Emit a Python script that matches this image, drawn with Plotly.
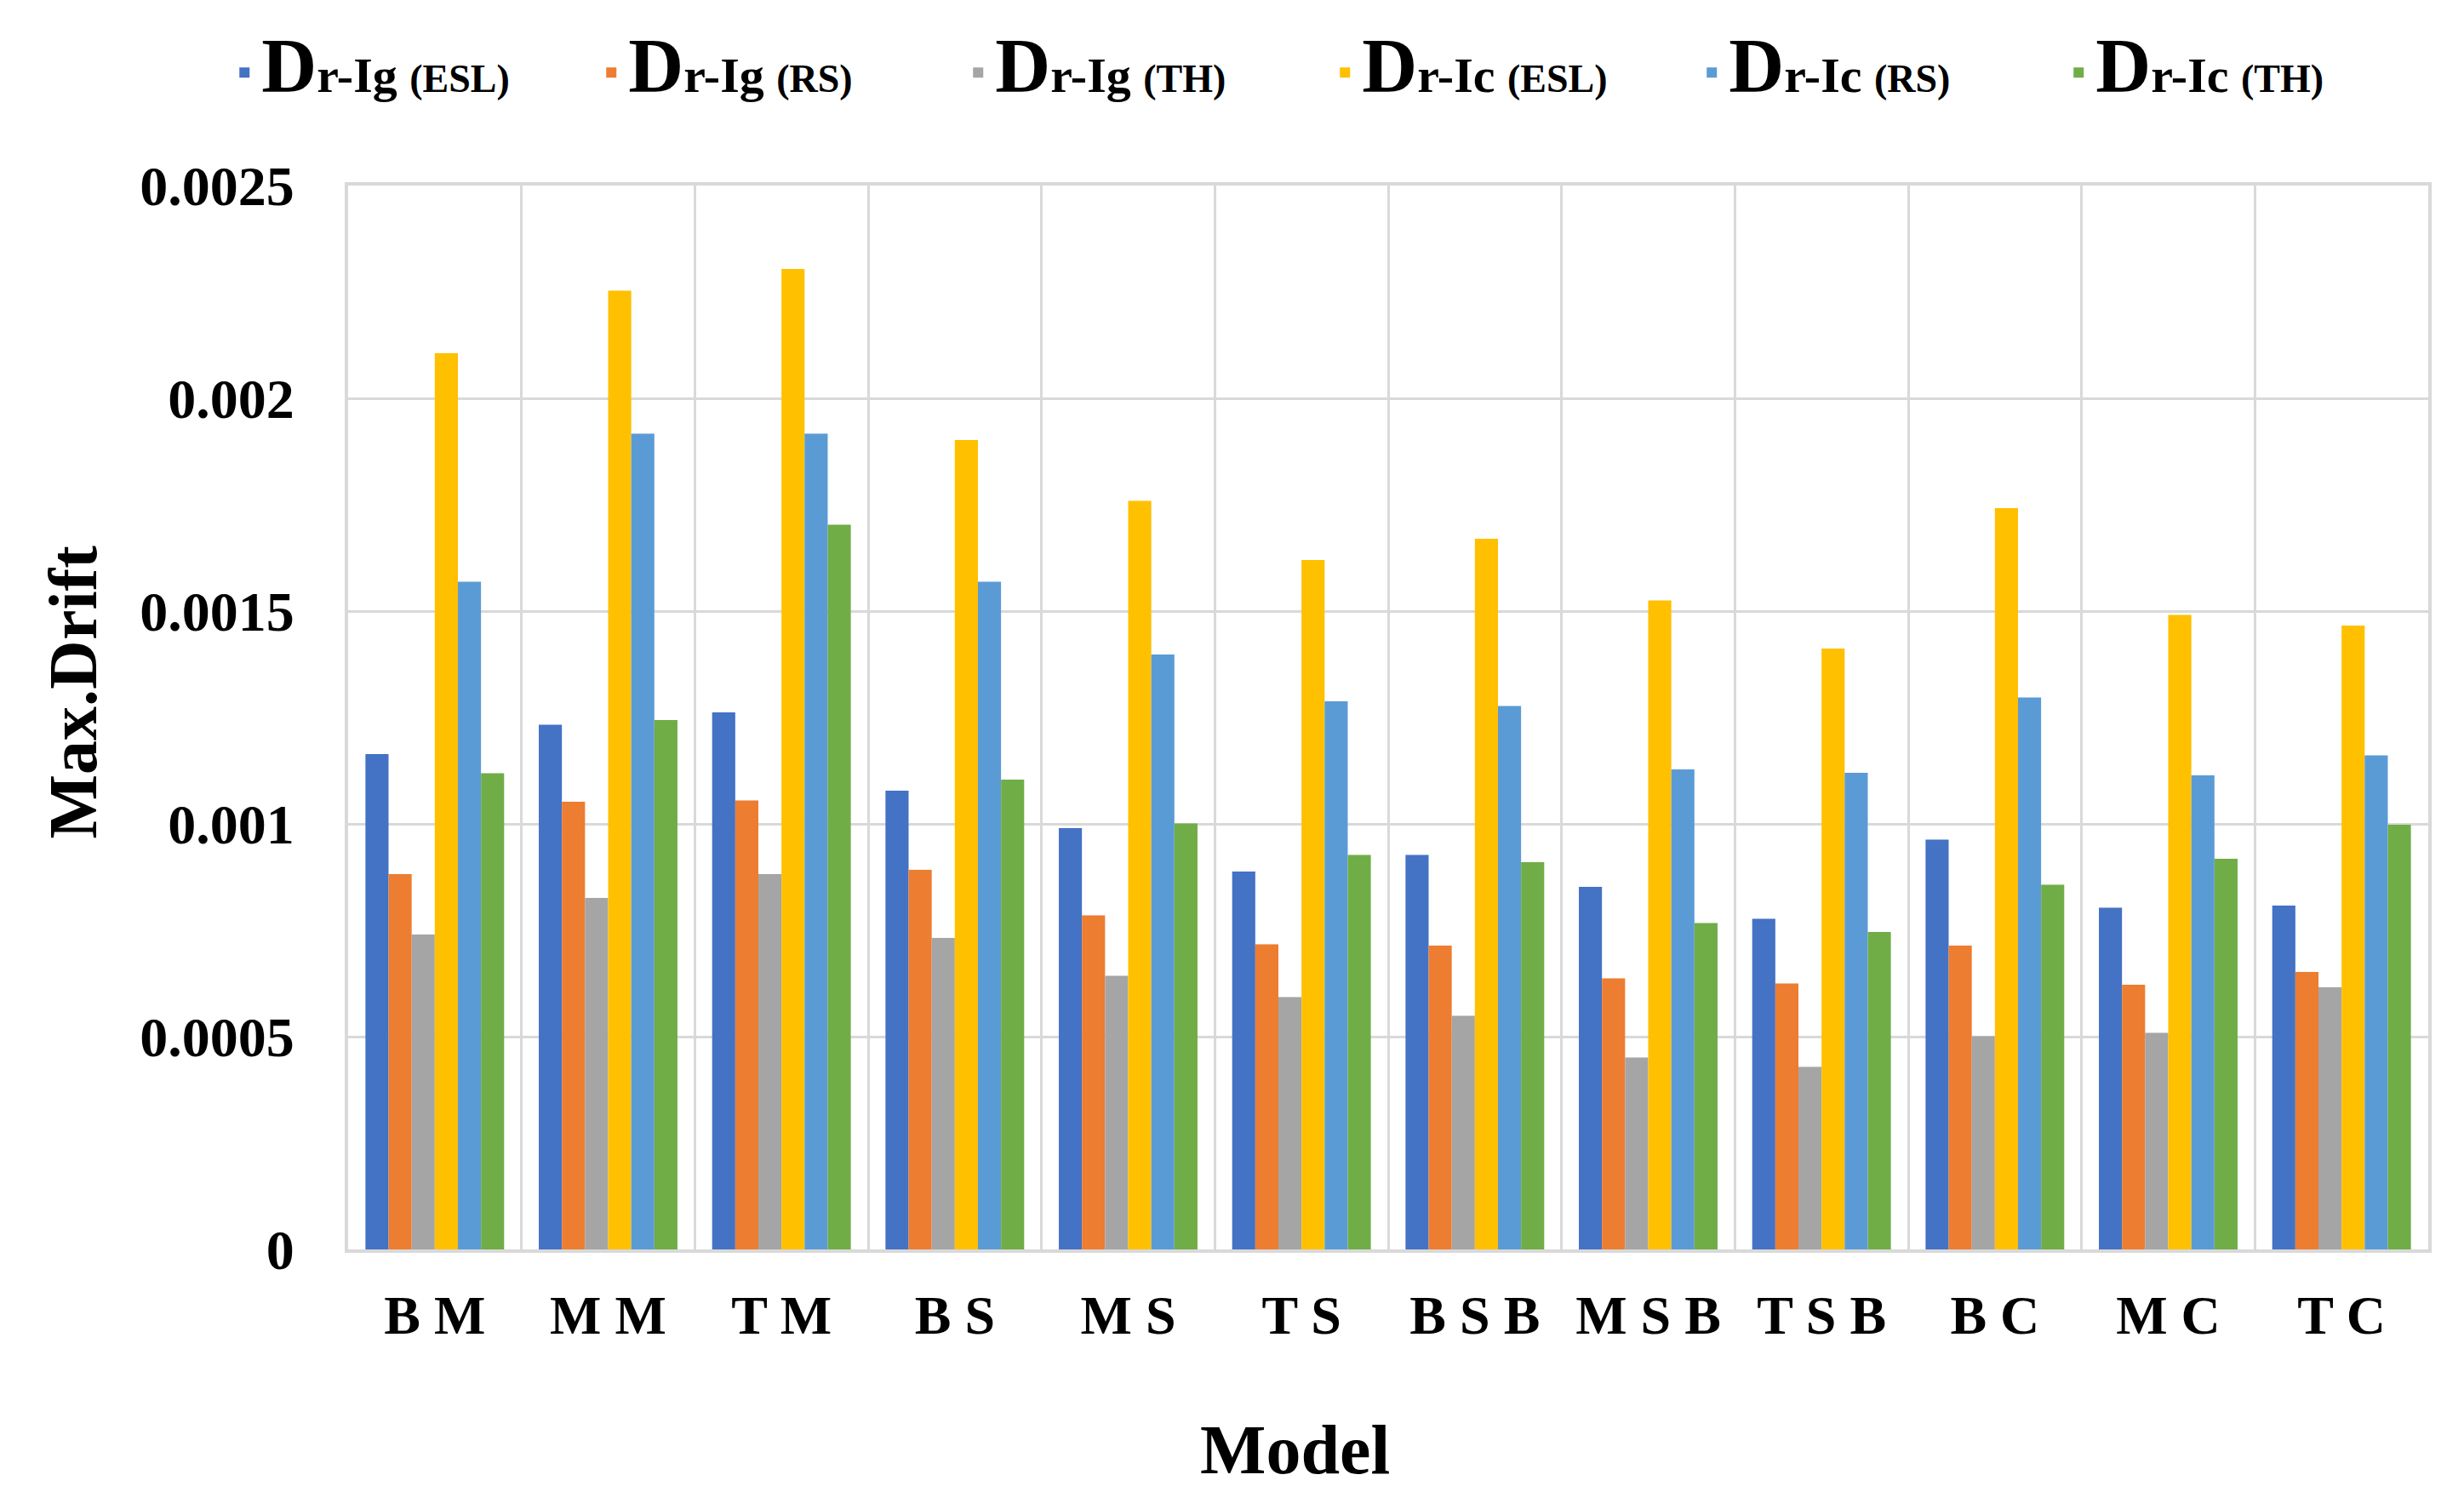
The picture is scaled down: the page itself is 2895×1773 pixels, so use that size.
import plotly.graph_objects as go

categories = ["B M", "M M", "T M", "B S", "M S", "T S", "B S B", "M S B", "T S B", "B C", "M C", "T C"]

ig_esl = [0.001164, 0.001233, 0.001262, 0.001078, 0.000990, 0.000888, 0.000927, 0.000852, 0.000777, 0.000963, 0.000803, 0.000808]
ig_rs  = [0.000882, 0.001052, 0.001055, 0.000892, 0.000785, 0.000717, 0.000714, 0.000637, 0.000625, 0.000714, 0.000622, 0.000652]
ig_th  = [0.000740, 0.000826, 0.000882, 0.000732, 0.000643, 0.000593, 0.000549, 0.000451, 0.000429, 0.000501, 0.000509, 0.000616]
ic_esl = [0.002106, 0.002253, 0.002304, 0.001902, 0.001759, 0.001620, 0.001670, 0.001525, 0.001412, 0.001742, 0.001491, 0.001466]
ic_rs  = [0.001569, 0.001917, 0.001917, 0.001569, 0.001398, 0.001288, 0.001277, 0.001128, 0.001120, 0.001297, 0.001114, 0.001161]
ic_th  = [0.001119, 0.001244, 0.001703, 0.001104, 0.001001, 0.000927, 0.000910, 0.000767, 0.000746, 0.000857, 0.000918, 0.000998]

series_sub = ["r-Ig", "r-Ig", "r-Ig", "r-Ic", "r-Ic", "r-Ic"]
series_par = ["(ESL)", "(RS)", "(TH)", "(ESL)", "(RS)", "(TH)"]
series_vals = [ig_esl, ig_rs, ig_th, ic_esl, ic_rs, ic_th]
colors = ["#4472C4", "#ED7D31", "#A5A5A5", "#FFC000", "#5B9BD5", "#70AD47"]

y_tickvals = [0, 0.0005, 0.001, 0.0015, 0.002, 0.0025]
y_ticktext = ["0", "0.0005", "0.001", "0.0015", "0.002", "0.0025"]

x_title = "Model"
y_title = "Max.Drift"

x_pos = list(range(len(categories)))

FONT = "Liberation Serif"

fig = go.Figure()
for sub, par, vals, col in zip(series_sub, series_par, series_vals, colors):
    name = ("<span style='font-size:90px'>D</span>" + sub +
            " <span style='font-size:46px'>" + par + "</span>")
    fig.add_trace(go.Bar(x=x_pos, y=vals, name=name, marker=dict(color=col, line=dict(width=0))))

fig.update_layout(
    width=2895, height=1773,
    paper_bgcolor="white", plot_bgcolor="white",
    barmode="group", bargap=0.2, bargroupgap=0,
    margin=dict(l=401, r=50, t=210, b=313, autoexpand=False),
    font=dict(family=FONT, color="black", size=58, weight="bold"),
    legend=dict(orientation="h", x=-0.058, xanchor="left", y=1.106, yanchor="middle",
                entrywidth=386, entrywidthmode="pixels",
                font=dict(family=FONT, size=58, color="black", weight="bold"),
                bgcolor="rgba(0,0,0,0)", traceorder="normal"),
    showlegend=True,
    annotations=[
        dict(text=x_title, xref="paper", yref="paper", x=0.455, y=-0.188,
             xanchor="center", yanchor="middle", showarrow=False,
             font=dict(family=FONT, size=82, color="black", weight="bold")),
        dict(text=y_title, xref="paper", yref="paper", x=-0.132, y=0.524,
             xanchor="center", yanchor="middle", showarrow=False, textangle=-90,
             font=dict(family=FONT, size=80, color="black", weight="bold")),
    ],
)

fig.update_xaxes(
    range=[-0.5, len(categories) - 0.5],
    tickmode="array", tickvals=x_pos, ticktext=categories,
    showgrid=False, zeroline=False,
    minor=dict(tick0=-0.5, dtick=1, showgrid=True, gridcolor="#D9D9D9", gridwidth=3, ticks=""),
    showline=True, linecolor="#D9D9D9", linewidth=4, mirror=True,
    ticks="", ticklabelstandoff=18,
    tickfont=dict(family=FONT, size=64, color="black", weight="bold"),
)

fig.update_yaxes(
    range=[0, 0.0025],
    tickmode="array", tickvals=y_tickvals, ticktext=y_ticktext,
    showgrid=True, gridcolor="#D9D9D9", gridwidth=3, zeroline=False,
    showline=True, linecolor="#D9D9D9", linewidth=4, mirror=True,
    ticks="", ticklabelstandoff=46,
    tickfont=dict(family=FONT, size=66, color="black", weight="bold"),
)

fig.write_html("out.html")
